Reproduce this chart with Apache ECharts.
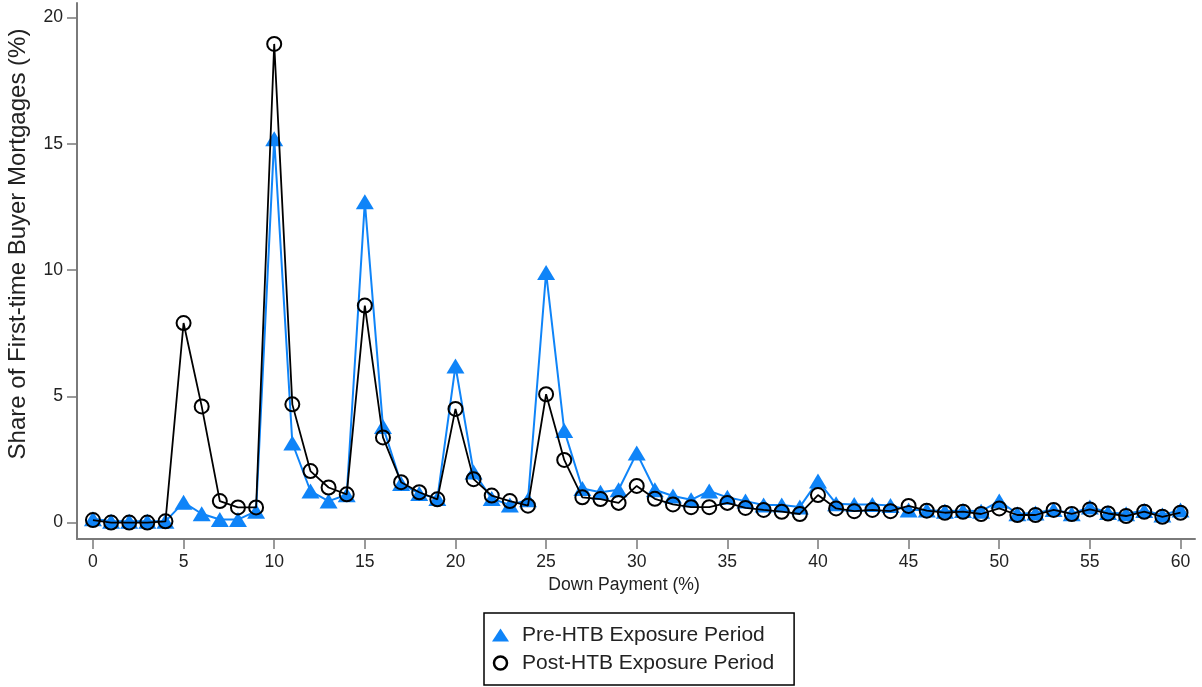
<!DOCTYPE html>
<html>
<head>
<meta charset="utf-8">
<script src="https://cdn.jsdelivr.net/npm/echarts@6/dist/echarts.min.js"></script>
<style>html,body{margin:0;padding:0;background:#fff}#c{width:1202px;height:687px}</style>
</head>
<body>
<div id="c"></div>
<script>
const downPayment = [0,1,2,3,4,5,6,7,8,9,10,11,12,13,14,15,16,17,18,19,20,21,22,23,24,25,26,27,28,29,30,31,32,33,34,35,36,37,38,39,40,41,42,43,44,45,46,47,48,49,50,51,52,53,54,55,56,57,58,59,60];
const preHTB = [0.15,0.05,0.05,0.05,0.05,0.8,0.35,0.12,0.12,0.45,15.2,3.15,1.25,0.85,1.1,12.7,3.8,1.55,1.15,0.95,6.2,2.0,0.95,0.7,0.9,9.9,3.65,1.35,1.2,1.3,2.75,1.3,1.05,0.9,1.25,1.0,0.85,0.7,0.7,0.62,1.65,0.75,0.72,0.72,0.68,0.5,0.5,0.45,0.48,0.45,0.85,0.35,0.38,0.52,0.35,0.62,0.4,0.35,0.48,0.3,0.5];
const postHTB = [0.1,0.0,0.0,0.0,0.05,7.9,4.6,0.85,0.6,0.6,18.95,4.68,2.04,1.39,1.12,8.59,3.37,1.6,1.2,0.92,4.5,1.72,1.07,0.85,0.67,5.08,2.48,1.0,0.93,0.78,1.45,0.94,0.72,0.61,0.61,0.78,0.58,0.5,0.43,0.34,1.09,0.56,0.45,0.5,0.45,0.66,0.47,0.39,0.43,0.34,0.56,0.3,0.3,0.5,0.34,0.52,0.36,0.26,0.43,0.23,0.39];
const xTicks = [0,5,10,15,20,25,30,35,40,45,50,55,60];
const yTicks = [0,5,10,15,20];

const blue = '#0F84F8';
const font = 'Liberation Sans, Arial, sans-serif';
const chart = echarts.init(document.getElementById('c'), null, {renderer: 'canvas'});
chart.setOption({
  animation: false,
  backgroundColor: '#fff',
  grid: {left: 77, right: 7, top: 3, bottom: 148, containLabel: false, outerBoundsMode: 'none'},
  xAxis: {
    type: 'value', min: -0.88, max: 60.8,
    name: 'Down Payment (%)', nameLocation: 'middle', nameGap: 14,
    nameTextStyle: {fontFamily: font, fontSize: 17.6, color: '#222', padding: [0, 24, 0, 0]},
    axisLine: {show: true, onZero: false, lineStyle: {color: '#7a7a7a', width: 2}},
    axisTick: {show: true, length: 10, lineStyle: {color: '#7a7a7a', width: 1.5}, customValues: xTicks},
    axisLabel: {fontFamily: font, fontSize: 17.6, color: '#222', margin: 14, customValues: xTicks},
    splitLine: {show: false}
  },
  yAxis: {
    type: 'value', min: -0.65, max: 20.57,
    name: 'Share of First-time Buyer Mortgages (%)', nameLocation: 'middle', nameGap: 47,
    nameTextStyle: {fontFamily: font, fontSize: 24, color: '#222', padding: [0, 0, 0, 54]},
    axisLine: {show: true, onZero: false, lineStyle: {color: '#7a7a7a', width: 2}},
    axisTick: {show: true, length: 10, lineStyle: {color: '#7a7a7a', width: 1.5}, customValues: yTicks},
    axisLabel: {fontFamily: font, fontSize: 17.6, color: '#222', margin: 14, customValues: yTicks},
    splitLine: {show: false}
  },
  legend: {
    orient: 'vertical', left: 484, top: 613,
    padding: [10, 20, 10, 8], itemGap: 4,
    itemWidth: 17, itemHeight: 13,
    borderColor: '#000', borderWidth: 1.5,
    textStyle: {fontFamily: font, fontSize: 21, lineHeight: 24, color: '#222', padding: [0, 0, 0, 8]},
    data: [
      {name: 'Pre-HTB Exposure Period', icon: 'triangle', itemStyle: {color: blue, borderWidth: 0}},
      {name: 'Post-HTB Exposure Period', icon: 'circle', itemStyle: {color: 'rgba(0,0,0,0)', borderColor: '#000', borderWidth: 2.5}}
    ]
  },
  series: [
    {
      name: 'Pre-HTB Exposure Period', type: 'line', z: 2,
      data: downPayment.map((d, i) => [d, preHTB[i]]),
      symbol: 'triangle', symbolSize: [18, 15], showAllSymbol: true,
      lineStyle: {color: blue, width: 2},
      itemStyle: {color: blue, borderWidth: 0}
    },
    {
      name: 'Post-HTB Exposure Period', type: 'line', z: 3,
      data: downPayment.map((d, i) => [d, postHTB[i]]),
      symbol: 'circle', symbolSize: 14, showAllSymbol: true,
      lineStyle: {color: '#000', width: 1.8},
      itemStyle: {color: 'rgba(0,0,0,0)', borderColor: '#000', borderWidth: 2}
    }
  ]
});
</script>
</body>
</html>
